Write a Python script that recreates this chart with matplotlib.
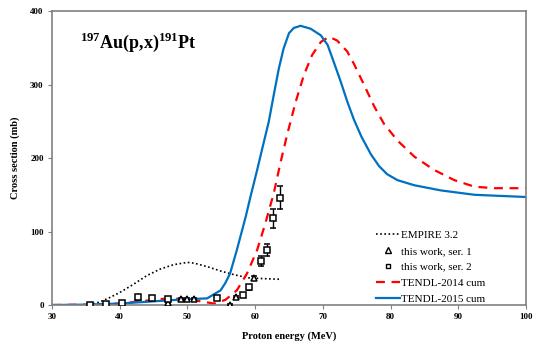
import numpy as np
import matplotlib.pyplot as plt
from matplotlib.lines import Line2D

plt.rcParams['font.family'] = ['Liberation Serif', 'DejaVu Serif']
plt.rcParams['mathtext.fontset'] = 'custom'
plt.rcParams['mathtext.rm'] = 'Liberation Serif:bold'
plt.rcParams['mathtext.bf'] = 'Liberation Serif:bold'

# EMPIRE 3.2
emp_e = [35.5, 37, 38.5, 40, 42, 44, 46, 48, 50, 51, 53, 55, 57, 59, 61, 63.7]
emp_s = [0, 4, 10, 17, 28, 40, 49, 55, 58, 57, 52, 46, 41, 37, 36, 35]

# TENDL-2014 cum
t14_e = [30, 35, 40, 44, 47, 50, 52, 53.9, 55.6, 57.3, 58.8, 60.3, 61.5, 62.75, 63.7,
         64.7, 66, 67.2, 68.4, 69.7, 70.9, 72.1, 73.6, 74.6, 75.8, 77.6, 79, 81,
         83.5, 86.4, 89.4, 92.4, 95.3, 100]
t14_s = [0, 0.5, 2, 6, 9, 8, 5, 2, 7, 20, 43, 75, 111, 152, 192,
         231, 277, 313, 340, 358, 365, 360, 345, 328, 305, 270, 247, 224,
         202, 184, 170, 161, 159, 159]

# TENDL-2015 cum
t15_e = [30, 35, 40, 45, 50, 52.9, 54.9, 55.6, 56.3, 57.3, 58.6, 59.3, 60.3, 61, 62,
         62.75, 63.5, 64.2, 65, 65.7, 66.7, 68.2, 69.7, 70.7, 71.6, 72.6, 73.6, 74.6,
         75.7, 77.1, 78.3, 79.5, 81, 83.5, 87.4, 92.4, 100]
t15_s = [0, 0.5, 2, 5, 8, 9, 20, 30, 43, 75, 120, 147, 184, 211, 249,
         286, 322, 349, 370, 377, 380, 376, 367, 354, 331, 305, 277, 252,
         229, 205, 189, 178, 170, 163, 156, 150, 147]

# this work, ser. 1
s1_e = [42.7, 47.2, 49.0, 50.0, 51.0, 56.3, 57.2, 59.9]
s1_s = [11, 3, 8, 8, 8, 0, 11, 37]
s1_err = [1, 1, 1, 1, 1, 1, 1, 3]

# this work, ser. 2
s2_e = [35.6, 38.0, 40.4, 42.7, 44.8, 47.2, 54.4, 58.2, 59.1, 60.9, 61.8, 62.6, 63.6]
s2_s = [0, 1, 3, 11, 10, 8, 10, 14, 24, 60, 75, 118, 146]
s2_err = [1, 1, 1, 1, 1, 1, 1, 2, 3, 7, 8, 13, 16]

fig = plt.figure(figsize=(5.35, 3.47), dpi=100)
ax = fig.add_axes([0.0972, 0.121, 0.886, 0.847])

ax.plot(emp_e, emp_s, color='black', ls=(0, (1, 1.5)), lw=1.2)
ax.errorbar(s1_e, s1_s, yerr=s1_err, fmt='^', ms=4.5, mfc='white', mec='black',
            ecolor='black', elinewidth=1, capsize=2, mew=1.1, zorder=4)
ax.errorbar(s2_e, s2_s, yerr=s2_err, fmt='s', ms=4, mfc='white', mec='black',
            ecolor='black', elinewidth=1, capsize=2, mew=1.1, zorder=4)
ax.plot(t14_e, t14_s, color='#ff0000', ls=(0, (4, 3)), lw=1.6)
ax.plot(t15_e, t15_s, color='#0070c0', lw=1.6, solid_joinstyle='round')

ax.set_xlim(30, 100)
ax.set_ylim(0, 400)
ax.set_xticks(range(30, 101, 10))
ax.set_yticks(range(0, 401, 100))
for s in ax.spines.values():
    s.set_color('#808080')
    s.set_linewidth(1.2)
ax.tick_params(direction='out', length=3, color='#808080', labelsize=6.5, pad=3)
for lab in ax.get_xticklabels() + ax.get_yticklabels():
    lab.set_fontweight('bold')

ax.set_xlabel('Proton energy (MeV)', fontsize=7.5, fontweight='bold', labelpad=7)
ax.set_ylabel('Cross section (mb)', fontsize=7.5, fontweight='bold', labelpad=7)

ax.text(0.059, 0.895, r'$^{197}$Au(p,x)$^{191}$Pt', transform=ax.transAxes,
        fontsize=13, fontweight='bold', va='center')

handles = [
    Line2D([], [], color='black', ls=(0, (1, 1.5)), lw=1.2),
    Line2D([], [], ls='none', marker='^', ms=4, mfc='white', mec='black', mew=1),
    Line2D([], [], ls='none', marker='s', ms=3.5, mfc='white', mec='black', mew=1),
    Line2D([], [], color='#ff0000', ls=(0, (4, 3)), lw=1.6),
    Line2D([], [], color='#0070c0', lw=1.6),
]
labels = ['EMPIRE 3.2', 'this work, ser. 1', 'this work, ser. 2',
          'TENDL-2014 cum', 'TENDL-2015 cum']
ax.legend(handles, labels, loc='lower left', bbox_to_anchor=(0.684, 0.005),
          frameon=False, fontsize=8, handlelength=2.1, handletextpad=0.1,
          labelspacing=0.55, borderpad=0, borderaxespad=0)

fig.savefig('out.png', dpi=100)
